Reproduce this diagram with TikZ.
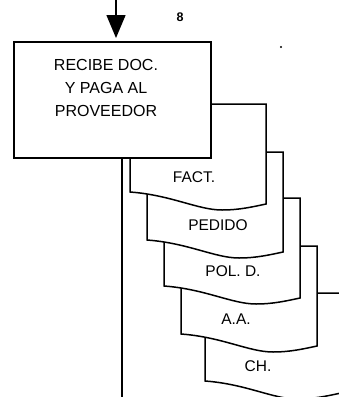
\documentclass[tikz,border=0pt]{standalone}
\usepackage{fontspec}
\setmainfont{Liberation Sans}
\usetikzlibrary{arrows.meta,calc}

\tikzset{
  every picture/.style={line width=1.5pt},
  doclabel/.style={font=\fontsize{15.5}{18}\selectfont},
}
% hoja de documento con borde ondulado: nombre, izq., arriba, texto, desplazamiento del texto
\newcommand\papel[5]{%
  \filldraw[fill=white] (#2,#3) -- ({#2},{#3+88})
    .. controls ({#2+41},{#3+91}) and ({#2+68},{#3+106}) .. ({#2+92},{#3+106})
    .. controls ({#2+109},{#3+106}) and ({#2+122},{#3+103}) .. ({#2+136},{#3+100})
    -- ({#2+136},#3) -- cycle;
  \node[doclabel] (#1) at ({#2+#5},{#3+73}) {#4};
}

\begin{document}
\begin{tikzpicture}[x=1pt,y=-1pt]
  \useasboundingbox (0,0) rectangle (338,397);
  % las hojas, de la ultima a la primera
  \papel{ch}{205}{293}{CH.}{53}
  \papel{aa}{181}{246}{A.A.}{55}
  \papel{pol}{164}{198}{POL. D.}{69}
  \papel{ped}{147}{152}{PEDIDO}{71}
  \papel{fact}{130}{104}{FACT.}{64}
  \node[draw,fill=white,anchor=north west,minimum width=197pt,minimum height=116pt] (paga) at (13,41) {};
  \node[align=center,font=\fontsize{16}{23}\selectfont] (pagatxt) at (106,88) {RECIBE DOC.\\Y PAGA AL\\PROVEEDOR};
  \node[font=\bfseries\fontsize{12.5}{14}\selectfont] (num) at (180,17.5) {8};
  \node[circle,fill,inner sep=0.8pt] (punto) at (281,47) {};
  \coordinate (in) at (116,0);
  \draw[-{Triangle[width=19pt,length=23pt]},shorten >=3pt] (in) -- (in |- paga.north);
  \coordinate (fin) at (122,397);
  \draw (fin |- paga.south) -- (fin);
\end{tikzpicture}
\end{document}
